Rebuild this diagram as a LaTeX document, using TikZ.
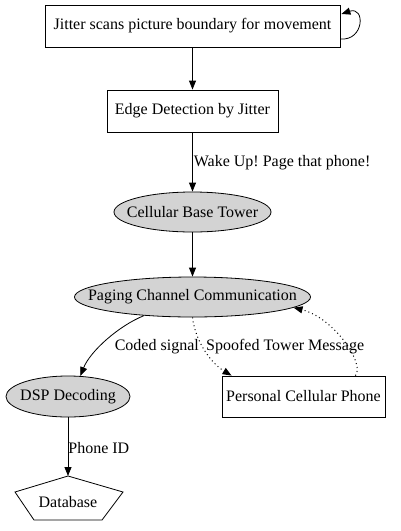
\documentclass[tikz,border=0pt]{standalone}
\usepackage{fontspec}
\setmainfont{Liberation Serif}
\usetikzlibrary{arrows.meta,calc,shapes.geometric}
\definecolor{nodegray}{HTML}{D3D3D3}
\frenchspacing
\tikzset{
  x=1pt, y=-1pt,
  every node/.style={font=\fontsize{16}{18}\selectfont},
  boxnode/.style={draw, line width=0.8pt, inner sep=0pt, fill=white},
  ellnode/.style={draw, ellipse, line width=0.8pt, inner sep=0pt, fill=nodegray},
  edge/.style={line width=0.8pt, -{Triangle[length=9pt,width=7pt]}},
  dotedge/.style={edge, line width=1pt, dash pattern=on 1pt off 3pt},
  lbl/.style={inner sep=0pt}
}
\begin{document}
\begin{tikzpicture}
\useasboundingbox (0,0) rectangle (400,531);
\node[boxnode, minimum width=295pt, minimum height=42pt] (jit) at (192.5,26) {Jitter scans picture boundary for movement};
\node[boxnode, minimum width=171pt, minimum height=42pt] (edge) at (192.5,111) {Edge Detection by Jitter};
\node[ellnode, minimum width=157pt, minimum height=40pt] (cbt) at (192.5,212) {\makebox[0pt]{Cellular Base Tower}};
\node[ellnode, minimum width=236pt, minimum height=40pt] (pg) at (192.5,297) {\makebox[0pt]{Paging Channel Communication}};
\node[ellnode, minimum width=124pt, minimum height=41pt] (dsp) at (68,396.5) {\makebox[0pt]{DSP Decoding}};
\node[boxnode, minimum width=163pt, minimum height=41pt] (phone) at (303.5,396.5) {Personal Cellular Phone};
% database pentagon
\coordinate (dbtop) at (68,476);
\draw[line width=0.8pt] (dbtop) -- (15,492) -- (34,520) -- (102,520) -- (123,492) -- cycle;
\node[lbl] (db) at (68,502) {Database};

% edges
\draw[edge] ($(jit.east)+(0,13)$) .. controls +(24,2) and +(24,-8) .. ($(jit.east)+(1,-12)$);
\draw[edge] (jit) -- (edge);
\draw[edge] (edge) -- node[lbl, right, xshift=1pt, yshift=-1pt] (lwake) {Wake Up! Page that phone!} (cbt);
\draw[edge] (cbt) -- (pg);
\draw[edge] (pg.201) .. controls +(-25,10) and +(10,-25) .. (dsp.59);
\draw[dotedge] (pg.south) .. controls +(3,25) and +(-20,-12) .. ($(phone.north west)+(10,0)$);
\draw[dotedge] ($(phone.north east)+(-30,0)$) .. controls +(10,-12) and +(40,10) .. (pg.-6);
\draw[edge] (dsp) -- node[lbl, right, xshift=0pt, yshift=-1pt] (lphone) {Phone ID} (dbtop);
\node[lbl, anchor=east] (lcoded) at (199,347) {Coded signal};
\node[lbl, anchor=west] (lspoof) at (206,347) {Spoofed Tower Message};
\end{tikzpicture}
\end{document}
